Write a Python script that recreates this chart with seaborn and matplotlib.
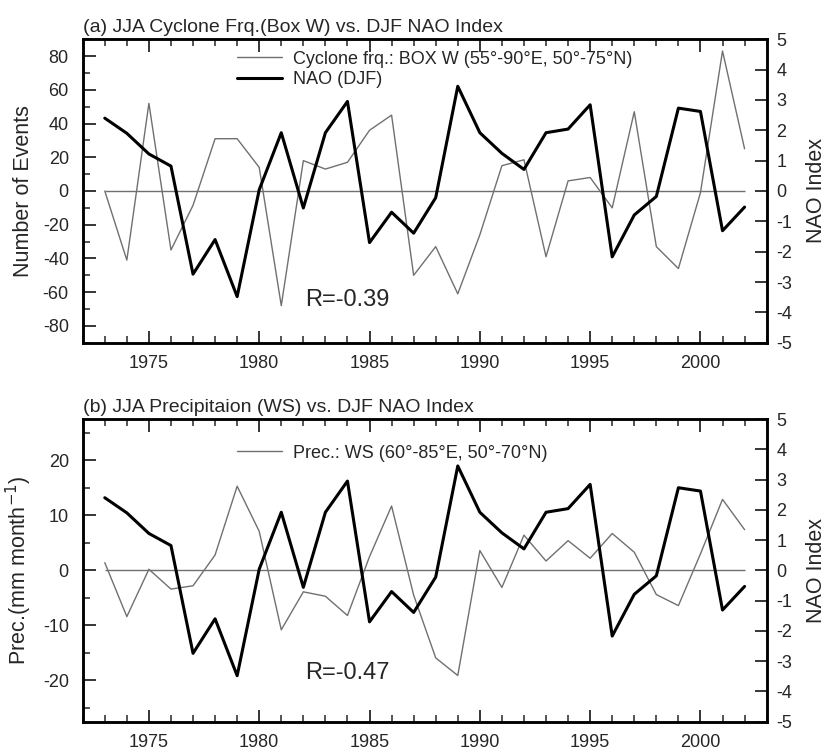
import matplotlib
matplotlib.use("Agg")
import numpy as np
import pandas as pd
import seaborn as sns
from matplotlib import pyplot as plt
from matplotlib.ticker import MultipleLocator

sns.set_style("ticks")
plt.rcParams["font.family"] = ["Liberation Sans", "DejaVu Sans"]
plt.rcParams["axes.unicode_minus"] = False

years = list(range(1973, 2003))

# JJA cyclone frequency anomaly, box W (left axis, panel a)
cyclone = [0, -41, 52, -35, -8.5, 31, 31, 14, -68, 18, 13, 17, 36, 45, -50, -33,
           -61, -26, 15, 18.5, -39, 6, 8, -10, 47, -33, -46, -1, 83, 25]

# JJA precipitation anomaly, WS (left axis, panel b)
precip = [1.4, -8.4, 0.2, -3.4, -2.8, 2.8, 15.3, 7.1, -10.8, -3.9, -4.7, -8.2, 2.5, 11.7,
          -4.5, -15.9, -19.1, 3.6, -3.1, 6.4, 1.7, 5.4, 2.2, 6.7, 3.3, -4.4, -6.4, 3.0, 12.9, 7.4]

# DJF NAO index (right axis, both panels)
nao = [2.40, 1.90, 1.22, 0.82, -2.74, -1.60, -3.48, 0.04, 1.92, -0.56, 1.92, 2.95, -1.70, -0.70,
       -1.39, -0.22, 3.45, 1.92, 1.24, 0.71, 1.92, 2.04, 2.84, -2.17, -0.79, -0.18, 2.73, 2.62,
       -1.31, -0.53]

df = pd.DataFrame({"year": years, "cyclone": cyclone, "precip": precip, "nao": nao})

panels = [
    {"col": "cyclone", "title": "(a) JJA Cyclone Frq.(Box W) vs. DJF NAO Index",
     "ylabel": "Number of Events", "ylim": (-90, 90), "major": 20, "minor": 10,
     "label": "Cyclone frq.: BOX W (55°-90°E, 50°-75°N)", "show_nao": True,
     "R": "R=-0.39", "rpos": (0.325, 0.141), "legy": 0.962,
     "rect": [0.0999, 0.543, 0.826, 0.4047]},
    {"col": "precip", "title": "(b) JJA Precipitaion (WS) vs. DJF NAO Index",
     "ylabel": "Prec.(mm month$^{-1}$)", "ylim": (-27.5, 27.5), "major": 10, "minor": 5,
     "label": "Prec.: WS (60°-85°E, 50°-70°N)", "show_nao": False,
     "R": "R=-0.47", "rpos": (0.325, 0.160), "legy": 0.915,
     "rect": [0.0999, 0.0377, 0.826, 0.4036]},
]

fig = plt.figure(figsize=(8.28, 7.5), dpi=100)

for p in panels:
    ax = fig.add_axes(p["rect"])
    ax2 = ax.twinx()

    ax.hlines(0, years[0], years[-1], color="#707070", lw=1.0, zorder=1)
    sns.lineplot(data=df, x="year", y=p["col"], ax=ax, color="#707070", lw=1.0, legend=False)
    sns.lineplot(data=df, x="year", y="nao", ax=ax2, color="black", lw=2.2, legend=False)
    h1 = ax.lines[-1]
    h2 = ax2.lines[-1]

    ax.set_xlim(1972, 2003)
    ax.set_ylim(*p["ylim"])
    ax2.set_ylim(-5, 5)

    ax.xaxis.set_major_locator(MultipleLocator(5))
    ax.xaxis.set_minor_locator(MultipleLocator(1))
    ax.yaxis.set_major_locator(MultipleLocator(p["major"]))
    ax.yaxis.set_minor_locator(MultipleLocator(p["minor"]))
    ax2.yaxis.set_major_locator(MultipleLocator(1))

    ax.tick_params(axis="x", which="both", direction="in", top=True, bottom=True,
                   labelsize=13, pad=9)
    ax.tick_params(axis="x", which="major", length=9, width=1.3)
    ax.tick_params(axis="x", which="minor", length=5, width=1.1)
    ax.tick_params(axis="y", which="both", direction="in", left=True, right=False,
                   labelsize=13, pad=10)
    ax.tick_params(axis="y", which="major", length=9, width=1.3)
    ax.tick_params(axis="y", which="minor", length=5, width=1.1)
    ax2.tick_params(axis="y", which="major", direction="in", length=9, width=1.3,
                    labelsize=13, pad=7)

    for a in (ax, ax2):
        for s in a.spines.values():
            s.set_linewidth(1.8)
            s.set_color("black")

    ax.set_xlabel("")
    ax.set_ylabel(p["ylabel"], fontsize=15.5, labelpad=6)
    ax2.set_ylabel("NAO Index", fontsize=15.5, labelpad=10)
    ax.set_title(p["title"], loc="left", fontsize=14, pad=5)

    handles = [h1, h2] if p["show_nao"] else [h1]
    labels = [p["label"], "NAO (DJF)"] if p["show_nao"] else [p["label"]]
    ax2.legend(handles, labels, loc="upper left", bbox_to_anchor=(0.2256, p["legy"]),
               frameon=False, fontsize=13, handlelength=2.5, handletextpad=0.6,
               borderpad=0, borderaxespad=0, labelspacing=0.2)

    ax2.text(p["rpos"][0], p["rpos"][1], p["R"], transform=ax2.transAxes,
             fontsize=17, ha="left", va="center")

fig.savefig("out.png", dpi=100)
